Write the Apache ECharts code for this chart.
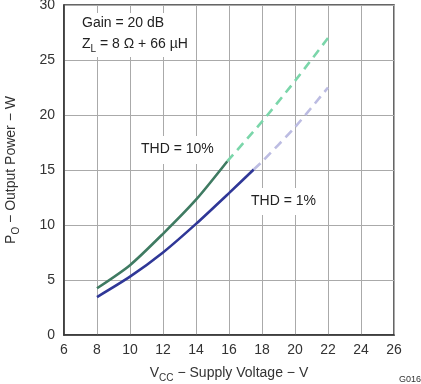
<!DOCTYPE html>
<html><head><meta charset="utf-8">
<script src="https://cdn.jsdelivr.net/npm/echarts@6/dist/echarts.min.js"></script>
<style>html,body{margin:0;padding:0;background:#fff}#c{width:421px;height:384px}</style>
</head><body><div id="c"></div>
<script>
// Data
const thd10SolidX = [8, 10, 12, 14, 15.9];
const thd10SolidY = [4.25, 6.35, 9.2, 12.3, 15.8];
const thd10DashX = [15.9, 18, 20, 22];
const thd10DashY = [15.8, 19.4, 23.1, 27.0];
const thd1SolidX = [8, 10, 12, 14, 16, 17.5];
const thd1SolidY = [3.45, 5.3, 7.5, 10.1, 12.9, 15.05];
const thd1DashX = [17.5, 18, 20, 22];
const thd1DashY = [15.05, 15.75, 18.9, 22.5];
const xTicks = [6, 8, 10, 12, 14, 16, 18, 20, 22, 24, 26];
const yTicks = [0, 5, 10, 15, 20, 25, 30];

const pair = (xs, ys) => xs.map((x, i) => [x, ys[i]]);
const FONT = 'Liberation Sans, Arial, sans-serif';
const chart = echarts.init(document.getElementById('c'));
const line = (name, data, color, type) => ({
  name, type: 'line', data, smooth: 0.25, symbol: 'none', z: 3,
  lineStyle: { color, width: 2.6, type: type === 'dashed' ? [9, 6] : 'solid', cap: 'butt' }
});
const subRich = {
  m: { fontSize: 14, fontFamily: FONT, color: '#333' },
  s: { fontSize: 10, fontFamily: FONT, color: '#333', verticalAlign: 'bottom', padding: [0, 0, -3, 0] }
};
chart.setOption({
  animation: false,
  grid: { left: 64, right: 27, top: 5, bottom: 49, show: true, borderColor: '#333', borderWidth: 1.5,
          containLabel: false, outerBoundsMode: 'none' },
  xAxis: {
    type: 'value', min: xTicks[0], max: xTicks[xTicks.length - 1], interval: 2,
    axisLine: { show: true, lineStyle: { color: '#333', width: 1.5 } },
    axisTick: { show: false },
    axisLabel: { color: '#333', fontSize: 14, fontFamily: FONT, margin: 8 },
    splitLine: { lineStyle: { color: '#aaaaaa', width: 1 } },
    name: '{m|V}{s|CC}{m| − Supply Voltage − V}', nameLocation: 'middle', nameGap: 31,
    nameTextStyle: { rich: subRich }
  },
  yAxis: {
    type: 'value', min: yTicks[0], max: yTicks[yTicks.length - 1], interval: 5,
    axisLine: { show: true, lineStyle: { color: '#333', width: 1.5 } },
    axisTick: { show: false },
    axisLabel: { color: '#333', fontSize: 14, fontFamily: FONT, margin: 9 },
    splitLine: { lineStyle: { color: '#aaaaaa', width: 1 } },
    name: '{m|P}{s|O}{m| − Output Power − W}', nameLocation: 'middle', nameGap: 46,
    nameTextStyle: { rich: subRich }
  },
  series: [
    line('THD10', pair(thd10SolidX, thd10SolidY), '#3f7b62', 'solid'),
    line('THD10d', pair(thd10DashX, thd10DashY), '#7bd6aa', 'dashed'),
    line('THD1', pair(thd1SolidX, thd1SolidY), '#2f3797', 'solid'),
    line('THD1d', pair(thd1DashX, thd1DashY), '#bcbce2', 'dashed')
  ],
  graphic: [
    { type: 'rect', shape: { x: 70, y: 13, width: 124, height: 44 }, style: { fill: '#fff' }, z: 10 },
    { type: 'text', left: 82, top: 16, z: 11, style: { text: 'Gain = 20 dB', font: '14px ' + FONT, fill: '#222' } },
    { type: 'text', left: 82, top: 37, z: 11, style: {
      text: '{m|Z}{s|L}{m| = 8 Ω + 66 µH}',
      rich: { m: { font: '14px ' + FONT, fill: '#222' }, s: { font: '10px ' + FONT, fill: '#222', verticalAlign: 'bottom', padding: [0, 0, -3, 0] } }
    } },
    { type: 'rect', shape: { x: 135, y: 136, width: 84, height: 28 }, style: { fill: '#fff' }, z: 10 },
    { type: 'text', left: 141, top: 142, z: 11, style: { text: 'THD = 10%', font: '14px ' + FONT, fill: '#222' } },
    { type: 'rect', shape: { x: 245, y: 188, width: 77, height: 27 }, style: { fill: '#fff' }, z: 10 },
    { type: 'text', left: 251, top: 194, z: 11, style: { text: 'THD = 1%', font: '14px ' + FONT, fill: '#222' } },
    { type: 'text', right: 0, bottom: 0, z: 11, style: { text: 'G016', font: '9px ' + FONT, fill: '#333' } }
  ]
});
</script></body></html>
